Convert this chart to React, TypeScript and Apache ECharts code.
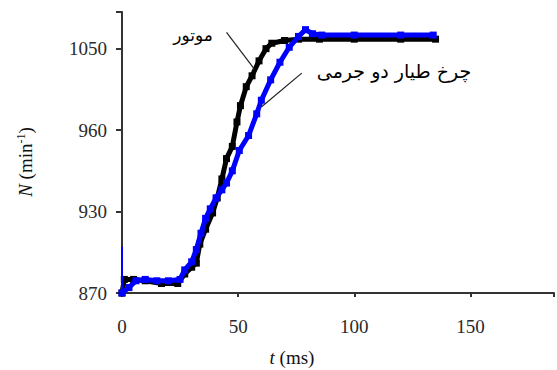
import React, { useEffect, useRef } from "react";
import * as echarts from "echarts";

const xTicks = [0, 50, 100, 150];
const yTickValues = [870, 930, 990, 1050];
const yTickLabels = ["870", "930", "960", "1050"];

const motorT = [0, 1, 5, 10, 17, 24, 27, 30, 32, 33.5, 36, 39, 41, 43, 45, 47.5, 49.5, 51, 53.5, 56, 59, 62, 64.5, 70, 76, 85, 100, 120, 135];
const motorN = [870, 880, 880, 879, 877, 877, 884, 889, 892, 906, 917, 929, 940, 954, 969, 978, 996, 1008, 1022, 1030, 1041, 1050, 1054, 1056, 1057, 1057, 1057, 1057, 1057];

const flyT = [0, 3, 6, 10, 15, 20, 25, 27, 30, 32, 34, 36, 38, 40.5, 43, 45, 47.5, 50.5, 54.5, 58, 60, 64, 68, 72, 76, 79, 82, 86, 100, 120, 134];
const flyN = [870, 874, 879, 880, 879, 879, 880, 887, 893, 902, 914, 925, 932, 940, 946, 951, 960, 975, 986, 1002, 1012, 1027, 1040, 1051, 1059, 1064, 1061, 1060, 1060, 1060, 1060];

const spikeT = [0, 0];
const spikeN = [870, 904];

const motorLabel = "موتور";
const flyLabel = "چرخ طیار دو جرمی";

export default function App() {
  const ref = useRef<HTMLDivElement>(null);
  useEffect(() => {
    document.body.style.margin = "0";
    if (!ref.current) return;
    const chart = echarts.init(ref.current, undefined, { renderer: "svg" });
    const serif = "Times New Roman";
    const arabic = "DejaVu Sans";
    const zip = (a: number[], b: number[]) => a.map((v, i) => [v, b[i]]);
    chart.setOption({
      animation: false,
      backgroundColor: "#ffffff",
      textStyle: { fontFamily: serif },
      grid: { left: 122, right: 0, top: 12, bottom: 77, containLabel: false },
      xAxis: {
        type: "value",
        min: 0,
        max: 186,
        interval: 50,
        splitLine: { show: false },
        axisLine: { show: true, onZero: false, lineStyle: { color: "#333", width: 2 } },
        axisTick: { show: true, inside: false, length: 4, lineStyle: { color: "#333", width: 2 } },
        axisLabel: {
          margin: 24,
          fontFamily: serif,
          fontSize: 19,
          color: "#2a2a2a",
          formatter: (v: number) => (xTicks.includes(v) ? String(v) : ""),
        },
      },
      yAxis: {
        type: "value",
        min: 870,
        max: 1077,
        interval: 60,
        splitLine: { show: false },
        axisLine: { show: true, onZero: false, lineStyle: { color: "#333", width: 2 } },
        axisTick: { show: true, inside: false, length: 6, lineStyle: { color: "#333", width: 2 } },
        axisLabel: {
          margin: 15,
          fontFamily: serif,
          fontSize: 19,
          color: "#2a2a2a",
          formatter: (v: number) => {
            const i = yTickValues.indexOf(v);
            return i >= 0 ? yTickLabels[i] : "";
          },
        },
      },
      series: [
        {
          type: "line",
          name: motorLabel,
          data: zip(motorT, motorN),
          symbol: "rect",
          symbolSize: 7,
          showAllSymbol: true,
          itemStyle: { color: "#000000" },
          lineStyle: { color: "#000000", width: 5 },
          markLine: {
            silent: true,
            symbol: ["none", "none"],
            label: { show: false },
            lineStyle: { color: "#222", width: 1.2, type: "solid" },
            data: [[{ coord: [45, 1062] }, { coord: [57, 1035] }]],
          },
          z: 2,
        },
        {
          type: "line",
          name: flyLabel,
          data: zip(flyT, flyN),
          symbol: "rect",
          symbolSize: 7,
          showAllSymbol: true,
          itemStyle: { color: "#0000ff" },
          lineStyle: { color: "#0000ff", width: 5 },
          markLine: {
            silent: true,
            symbol: ["none", "none"],
            label: { show: false },
            lineStyle: { color: "#222", width: 1.2, type: "solid" },
            data: [[{ coord: [77.4, 1032] }, { coord: [60, 1007] }]],
          },
          z: 3,
        },
        {
          type: "line",
          data: zip(spikeT, spikeN),
          symbol: "none",
          lineStyle: { color: "#0000ff", width: 2 },
          z: 3,
        },
      ],
      graphic: [
        {
          type: "text",
          x: 193,
          y: 35,
          style: {
            text: motorLabel,
            fontFamily: arabic,
            fontSize: 17,
            fill: "#000",
            align: "center",
            verticalAlign: "middle",
          },
        },
        {
          type: "text",
          x: 394,
          y: 71,
          style: {
            text: flyLabel,
            fontFamily: arabic,
            fontSize: 19,
            fill: "#000",
            align: "center",
            verticalAlign: "middle",
          },
        },
        {
          type: "text",
          x: 292,
          y: 357,
          style: {
            text: "{i|t} {n|(ms)}",
            fontFamily: serif,
            fontSize: 19,
            align: "center",
            verticalAlign: "middle",
            rich: {
              i: { fontFamily: serif, fontSize: 19, fontStyle: "italic", fill: "#111" },
              n: { fontFamily: serif, fontSize: 19, fill: "#111" },
            },
          },
        },
        {
          type: "text",
          x: 25,
          y: 162,
          rotation: Math.PI / 2,
          style: {
            text: "{i|N} {n|(min}{s|-1}{n|)}",
            fontFamily: serif,
            fontSize: 19,
            align: "center",
            verticalAlign: "middle",
            rich: {
              i: { fontFamily: serif, fontSize: 19, fontStyle: "italic", fill: "#111" },
              n: { fontFamily: serif, fontSize: 19, fill: "#111" },
              s: { fontFamily: serif, fontSize: 12, fill: "#111", verticalAlign: "top", padding: [0, 0, 8, 0] },
            },
          },
        },
      ],
    });
    return () => chart.dispose();
  }, []);
  return <div ref={ref} style={{ width: 557, height: 370 }} />;
}
